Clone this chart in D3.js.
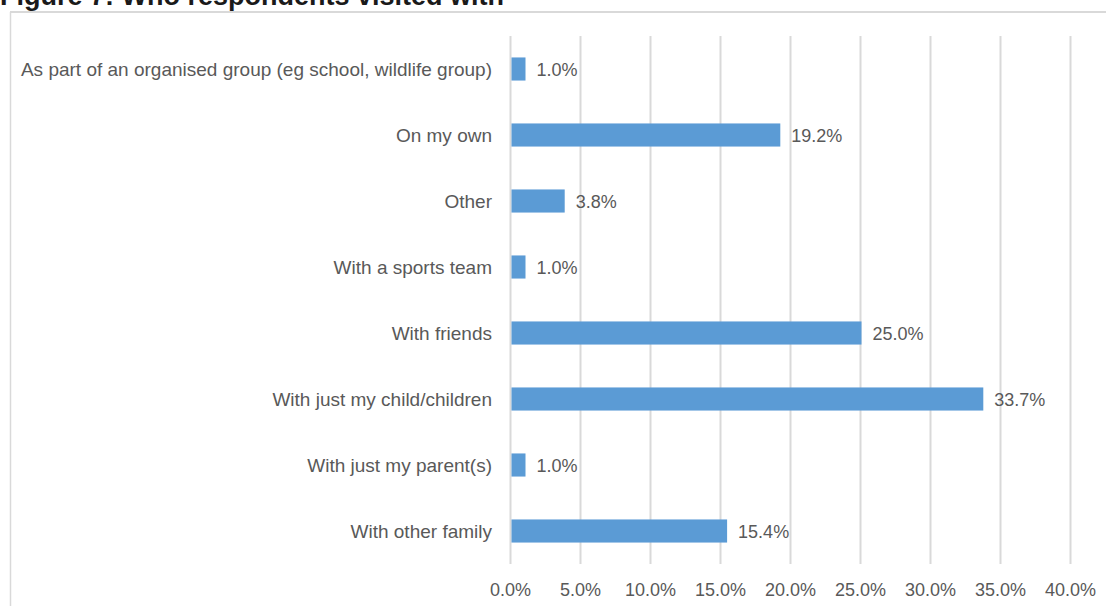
<!DOCTYPE html>
<html>
<head>
<meta charset="utf-8">
<script src="https://cdn.jsdelivr.net/npm/d3@7"></script>
<style>
  html, body { margin: 0; padding: 0; background: #ffffff; }
  svg { display: block; }
</style>
</head>
<body>
<svg id="chart" width="1106" height="606"></svg>
<script>
// Who respondents visited with (share of respondents, %)
const categories = [
  "As part of an organised group (eg school, wildlife group)",
  "On my own",
  "Other",
  "With a sports team",
  "With friends",
  "With just my child/children",
  "With just my parent(s)",
  "With other family"
];
const values = [1.0, 19.2, 3.8, 1.0, 25.0, 33.7, 1.0, 15.4];
const tickValues = [0, 5, 10, 15, 20, 25, 30, 35, 40];
const titleText = "Figure 7: Who respondents visited with";

const svg = d3.select("#chart");
const labelFont = "'Liberation Sans', Arial, sans-serif";
const textColor = "#595959";
const gridColor = "#d9d9d9";

// Title, partly cropped by the top edge
svg.append("text")
  .attr("x", 0)
  .attr("y", 5)
  .attr("font-family", "'Liberation Sans', Arial, sans-serif")
  .attr("font-weight", "bold")
  .attr("font-size", 27)
  .attr("fill", "#1a1a1a")
  .text(titleText);

// Chart frame
svg.append("line")
  .attr("x1", 10).attr("x2", 1106)
  .attr("y1", 12).attr("y2", 12)
  .attr("stroke", gridColor).attr("stroke-width", 2);
svg.append("line")
  .attr("x1", 10.5).attr("x2", 10.5)
  .attr("y1", 12).attr("y2", 606)
  .attr("stroke", gridColor).attr("stroke-width", 1.5);

const x = d3.scaleLinear().domain([0, 40]).range([510.5, 1070.5]);
const y = d3.scaleBand().domain(categories).range([36, 564])
  .paddingInner(0.65).paddingOuter(0.325);

// Vertical gridlines
svg.append("g")
  .selectAll("line")
  .data(tickValues)
  .join("line")
  .attr("x1", d => x(d)).attr("x2", d => x(d))
  .attr("y1", 36).attr("y2", 564)
  .attr("stroke", gridColor).attr("stroke-width", 2);

// Tick labels
svg.append("g")
  .selectAll("text")
  .data(tickValues)
  .join("text")
  .attr("x", d => x(d))
  .attr("y", 596)
  .attr("text-anchor", "middle")
  .attr("font-family", labelFont)
  .attr("font-size", 18)
  .attr("fill", textColor)
  .text(d => d.toFixed(1) + "%");

// Bars
svg.append("g")
  .selectAll("rect")
  .data(values)
  .join("rect")
  .attr("x", x(0) + 1)
  .attr("y", (d, i) => y(categories[i]))
  .attr("width", d => x(d) - x(0))
  .attr("height", y.bandwidth())
  .attr("fill", "#5b9bd5");

// Category labels
svg.append("g")
  .selectAll("text")
  .data(categories)
  .join("text")
  .attr("x", 492)
  .attr("y", d => y(d) + y.bandwidth() / 2 + 6.5)
  .attr("text-anchor", "end")
  .attr("font-family", labelFont)
  .attr("font-size", 19)
  .attr("fill", textColor)
  .text(d => d);

// Value labels
svg.append("g")
  .selectAll("text")
  .data(values)
  .join("text")
  .attr("x", d => x(d) + 12)
  .attr("y", (d, i) => y(categories[i]) + y.bandwidth() / 2 + 6.5)
  .attr("font-family", labelFont)
  .attr("font-size", 18)
  .attr("fill", textColor)
  .text(d => d.toFixed(1) + "%");
</script>
</body>
</html>
